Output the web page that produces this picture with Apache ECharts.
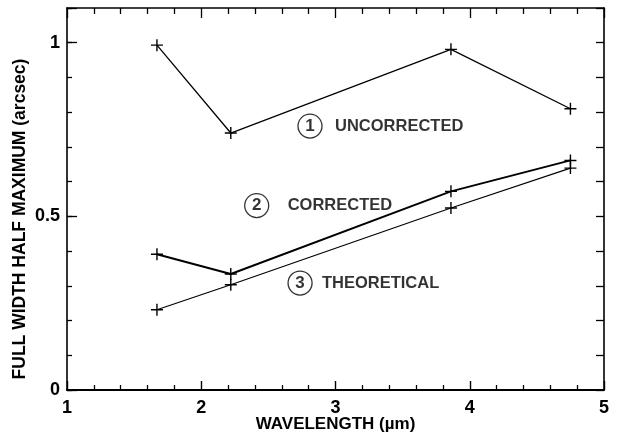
<!DOCTYPE html>
<html>
<head>
<meta charset="utf-8">
<script src="https://cdn.jsdelivr.net/npm/echarts@6/dist/echarts.min.js"></script>
<style>
  html, body { margin: 0; padding: 0; background: #fff; }
  #chart { width: 620px; height: 434px; }
</style>
</head>
<body>
<div id="chart"></div>
<script>
// Wavelength of each measurement (µm)
const wavelengths = [1.67, 2.22, 3.86, 4.75];
// FWHM in arcsec for each curve
const uncorrected = [0.993, 0.740, 0.981, 0.810];
const corrected = [0.391, 0.334, 0.572, 0.661];
const theoretical = [0.231, 0.303, 0.524, 0.639];

// Curve labels: number, name, and data-space anchor of the circle and the text
const labelNumbers = ['1', '2', '3'];
const labelNames = ['UNCORRECTED', 'CORRECTED', 'THEORETICAL'];
const circleAnchors = [[2.81, 0.76], [2.413, 0.531], [2.736, 0.308]];
const textAnchors = [[2.996, 0.76], [2.644, 0.531], [2.899, 0.308]];

const FONT = '"Liberation Sans", Arial, Helvetica, sans-serif';
const INK = '#000';
const PLUS = 'path://M5.3,0h1.4v5.3h5.3v1.4h-5.3v5.3h-1.4v-5.3h-5.3v-1.4h5.3z';

function pairs(ys) { return wavelengths.map((x, i) => [x, ys[i]]); }

function curve(name, ys, width) {
  return {
    name, type: 'line', data: pairs(ys),
    xAxisIndex: 0, yAxisIndex: 0,
    symbol: PLUS, symbolSize: 12,
    itemStyle: { color: INK },
    lineStyle: { color: INK, width },
    animation: false, z: 3
  };
}

const frameLine = { show: true, onZero: false, lineStyle: { color: INK, width: 1.6 } };

const chart = echarts.init(document.getElementById('chart'));
chart.setOption({
  backgroundColor: '#fff',
  animation: false,
  grid: { left: 67, right: 16, top: 8, bottom: 44, containLabel: false, outerBoundsMode: 'none' },
  xAxis: [
    {
      type: 'value', position: 'bottom', min: 1, max: 5, interval: 1,
      axisLine: { show: true, onZero: false, lineStyle: { color: INK, width: 2 } },
      axisTick: { show: true, inside: true, length: 9, lineStyle: { color: INK, width: 1.4 } },
      minorTick: { show: true, splitNumber: 5, length: 5, lineStyle: { color: INK, width: 1.3 } },
      splitLine: { show: false },
      axisLabel: { color: INK, fontFamily: FONT, fontWeight: 'bold', fontSize: 18, margin: 9 },
      name: 'WAVELENGTH (µm)', nameLocation: 'middle', nameGap: 26, nameMoveOverlap: false,
      nameTextStyle: { color: INK, fontFamily: FONT, fontWeight: 'bold', fontSize: 17 }
    },
    {
      type: 'value', position: 'top', min: 1, max: 5, interval: 1,
      axisLine: frameLine,
      axisTick: { show: true, inside: true, length: 10, lineStyle: { color: INK, width: 1.3 } },
      minorTick: { show: true, splitNumber: 5, length: 6, lineStyle: { color: INK, width: 1.3 } },
      splitLine: { show: false },
      axisLabel: { show: false }
    }
  ],
  yAxis: [
    {
      type: 'value', position: 'left', min: 0, max: 1.1, interval: 0.1,
      axisLine: frameLine,
      axisTick: { show: true, inside: true, length: 5, lineStyle: { color: INK, width: 1.3 } },
      splitLine: { show: false },
      axisLabel: {
        color: INK, fontFamily: FONT, fontWeight: 'bold', fontSize: 18, margin: 7,
        formatter: v => {
          if (Math.abs(v) < 1e-6) return '0';
          if (Math.abs(v - 0.5) < 1e-6) return '0.5';
          if (Math.abs(v - 1) < 1e-6) return '1';
          return '';
        }
      },
      name: 'FULL WIDTH HALF MAXIMUM (arcsec)', nameLocation: 'middle', nameGap: 38, nameMoveOverlap: false,
      nameTextStyle: { color: INK, fontFamily: FONT, fontWeight: 'bold', fontSize: 17.5, padding: [0, 40, 0, 0] }
    },
    {
      // longer ticks at the labelled values
      type: 'value', position: 'left', min: 0, max: 1.1, interval: 0.5,
      axisLine: { show: false, onZero: false },
      axisTick: { show: true, inside: true, length: 10, lineStyle: { color: INK, width: 1.3 } },
      splitLine: { show: false },
      axisLabel: { show: false }
    },
    {
      type: 'value', position: 'right', min: 0, max: 1.1, interval: 0.1,
      axisLine: frameLine,
      axisTick: { show: true, inside: true, length: 8, lineStyle: { color: INK, width: 1.3 } },
      splitLine: { show: false },
      axisLabel: { show: false }
    }
  ],
  series: [
    curve('Uncorrected', uncorrected, 1.3),
    curve('Corrected', corrected, 1.9),
    curve('Theoretical', theoretical, 1.2),
    {
      type: 'scatter', xAxisIndex: 0, yAxisIndex: 0,
      data: circleAnchors.map((p, i) => ({ value: p, label: { formatter: labelNumbers[i] } })),
      symbol: 'circle', symbolSize: 24,
      itemStyle: { color: '#fff', borderColor: INK, borderWidth: 1.3 },
      label: { show: true, position: 'inside', color: INK, fontFamily: FONT, fontWeight: 'bold', fontSize: 17 },
      silent: true, z: 4
    },
    {
      type: 'scatter', xAxisIndex: 0, yAxisIndex: 0,
      data: textAnchors.map((p, i) => ({ value: p, label: { formatter: labelNames[i] } })),
      symbolSize: 0,
      label: { show: true, position: 'right', distance: 0, color: INK, fontFamily: FONT, fontWeight: 'bold', fontSize: 16.5 },
      silent: true, z: 4
    }
  ]
});
</script>
</body>
</html>
